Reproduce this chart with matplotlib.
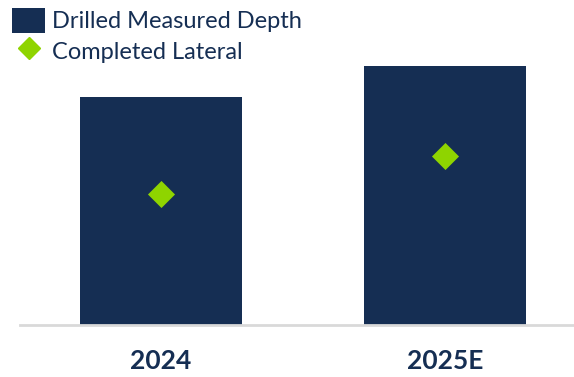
import matplotlib
matplotlib.use("Agg")
import matplotlib.pyplot as plt
from matplotlib.lines import Line2D
from matplotlib.patches import Patch

categories = ["2024", "2025E"]
drilled_measured_depth = [228, 259]
completed_lateral = [131, 169]

navy = "#152e53"
green = "#8fd400"

plt.rcParams['font.family'] = ['Lato', 'DejaVu Sans']

fig = plt.figure(figsize=(5.74, 3.77), dpi=100)
ax = fig.add_axes([20/574, 52/377, 554/574, 300/377])
x = list(range(len(categories)))
ax.bar(x, drilled_measured_depth, width=162/284, color=navy, zorder=2)
ax.scatter(x, completed_lateral, marker="D", s=190, color=green, zorder=3, linewidths=0)
ax.set_xlim(-141/284, 413/284)
ax.set_ylim(0, 300)
for s in ["top", "right", "left"]:
    ax.spines[s].set_visible(False)
ax.spines["bottom"].set_color("#d9d9d9")
ax.spines["bottom"].set_linewidth(2)
ax.set_yticks([])
ax.set_xticks(x)
ax.set_xticklabels(categories, fontsize=19, fontweight="bold", color=navy)
ax.tick_params(axis="x", length=0, pad=17)

handles = [Patch(facecolor=navy, edgecolor="none", label="Drilled Measured Depth"),
           Line2D([], [], marker="D", color=green, linestyle="none", markersize=11, label="Completed Lateral")]
fig.legend(handles=handles, loc="upper left", bbox_to_anchor=(0.005, 1.005), frameon=False,
           fontsize=17, labelcolor=navy, handlelength=1.4, handleheight=1.3, handletextpad=0.3,
           labelspacing=0.2, borderaxespad=0)
fig.savefig("out.png", dpi=100)
